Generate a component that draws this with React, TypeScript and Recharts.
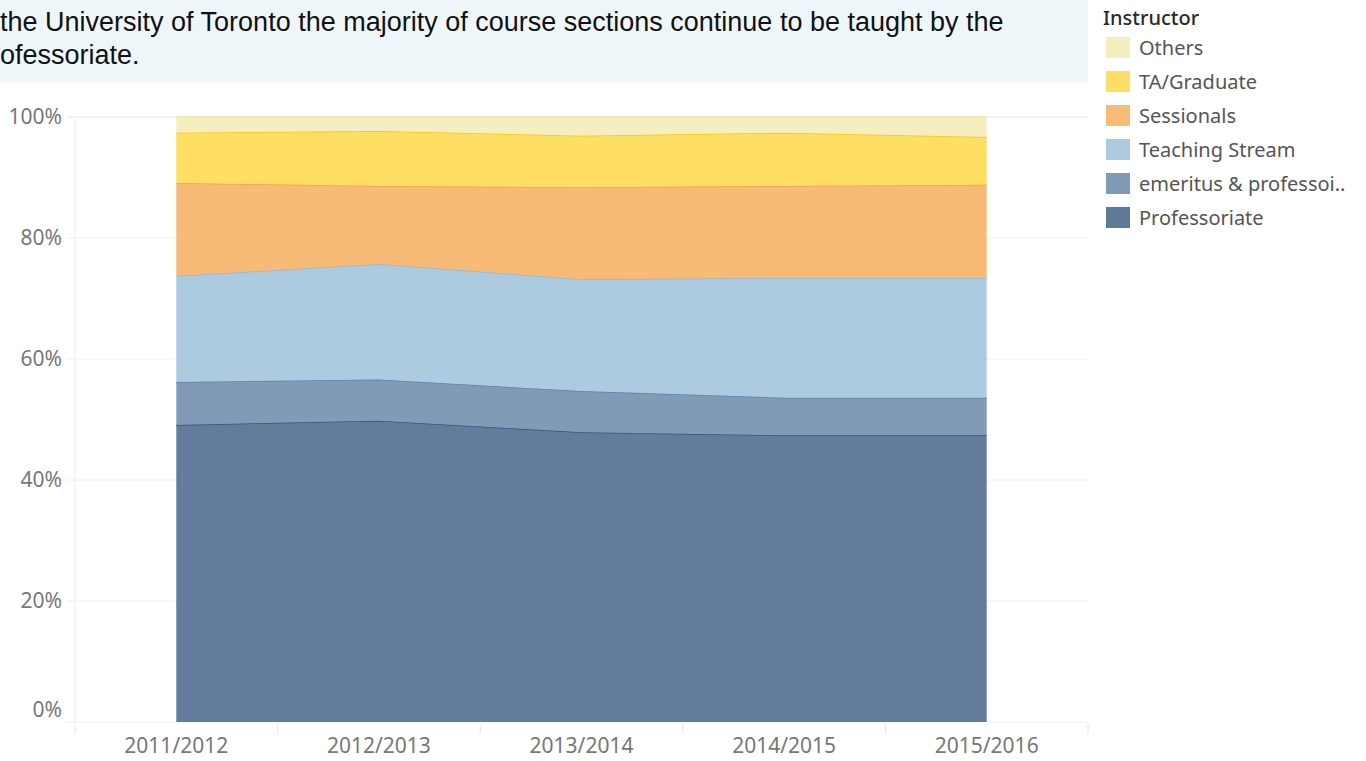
import React from 'react';
import { AreaChart, Area, XAxis, YAxis, CartesianGrid, ReferenceLine } from 'recharts';

const YEARS = ['2011/2012', '2012/2013', '2013/2014', '2014/2015', '2015/2016'];
const PROFESSORIATE = [49.1, 49.8, 47.9, 47.4, 47.4];
const EMERITUS = [7.1, 6.8, 6.8, 6.2, 6.2];
const TEACHING = [17.5, 19.1, 18.5, 19.8, 19.8];
const SESSIONALS = [15.4, 12.9, 15.2, 15.2, 15.4];
const TA = [8.3, 9.1, 8.5, 8.8, 7.9];
const OTHERS = [2.6, 2.3, 3.1, 2.6, 3.3];
const Y_TICKS = [0, 20, 40, 60, 80, 100];
const X_TICKS = [-0.5, 0, 0.5, 1, 1.5, 2, 2.5, 3, 3.5, 4, 4.5];

const SERIES = [
  { key: 'professoriate', name: 'Professoriate', fill: '#637c9b', stroke: '#2f5580', swatch: '#5f7a99' },
  { key: 'emeritus', name: 'emeritus & professoi..', fill: '#819bb6', stroke: '#5b81aa', swatch: '#7f9ab5' },
  { key: 'teaching', name: 'Teaching Stream', fill: '#adcbe0', stroke: '#93b8d8', swatch: '#adcbe0' },
  { key: 'sessionals', name: 'Sessionals', fill: '#f7bb77', stroke: '#f2a04f', swatch: '#f8bb78' },
  { key: 'ta', name: 'TA/Graduate', fill: '#fede63', stroke: '#fcc219', swatch: '#fedf66' },
  { key: 'others', name: 'Others', fill: '#f5eebe', stroke: '#f3e3a0', swatch: '#f4eebf' },
];

const data = YEARS.map((year, i) => ({
  idx: i,
  year,
  professoriate: PROFESSORIATE[i],
  emeritus: EMERITUS[i],
  teaching: TEACHING[i],
  sessionals: SESSIONALS[i],
  ta: TA[i],
  others: OTHERS[i],
}));

const FONT = '"Noto Sans", sans-serif';

const YTick = (props: any) => {
  const { x, y, payload } = props;
  const shift = payload.value === 0 ? -12 : 0;
  return (
    <text x={x} y={y + shift} dy="0.35em" textAnchor="end" fill="#777" fontSize={21} fontFamily={FONT}>
      {payload.value}%
    </text>
  );
};

const XTick = (props: any) => {
  const { x, y, payload } = props;
  const v = payload.value;
  if (!Number.isInteger(v)) {
    return <line x1={x} x2={x} y1={y + 3} y2={y + 12} stroke="#e4e4e4" strokeWidth={1} />;
  }
  return (
    <text x={x} y={y + 31} textAnchor="middle" fill="#777" fontSize={21} fontFamily={FONT}>
      {YEARS[v]}
    </text>
  );
};

const App: React.FC = () => {
  return (
    <div style={{ position: 'absolute', left: 0, top: 0, width: 1366, height: 761, background: '#fff', overflow: 'hidden' }}>
      <div
        style={{
          position: 'absolute', left: 0, top: 0, width: 1088, height: 82, background: '#eef6fa',
          fontFamily: '"Liberation Sans", Arial, sans-serif', fontSize: 27, lineHeight: '33px', color: '#111',
          paddingTop: 6, boxSizing: 'border-box', whiteSpace: 'nowrap',
        }}
      >
        <div>the University of Toronto the majority of course sections continue to be taught by the</div>
        <div>ofessoriate.</div>
      </div>

      <div style={{ position: 'absolute', left: 0, top: 0 }}>
        <AreaChart width={1366} height={761} data={data} margin={{ top: 117, right: 278, bottom: 0, left: 0 }}>
          <CartesianGrid vertical={false} stroke="#f0f0f0" />
          <ReferenceLine x={-0.5} stroke="#ececec" />
          <XAxis
            dataKey="idx"
            type="number"
            domain={[-0.5, 4.5]}
            ticks={X_TICKS}
            interval={0}
            padding={{ left: 8, right: 0 }}
            height={39}
            axisLine={false}
            tickLine={false}
            tickSize={0}
            tickMargin={0}
            tick={<XTick />}
          />
          <YAxis
            domain={[0, 100]}
            ticks={Y_TICKS}
            width={67}
            axisLine={false}
            tickLine={false}
            tickSize={0}
            tickMargin={5}
            tick={<YTick />}
          />
          {SERIES.map((s) => (
            <Area
              key={s.key}
              type="linear"
              dataKey={s.key}
              name={s.name}
              stackId="1"
              fill={s.fill}
              fillOpacity={1}
              stroke={s.stroke}
              strokeWidth={1.5}
              isAnimationActive={false}
            />
          ))}
        </AreaChart>
      </div>

      <div style={{ position: 'absolute', left: 1103, top: 6, fontFamily: FONT }}>
        <div style={{ fontSize: 20, fontWeight: 500, color: '#2a2a2a', height: 24, lineHeight: '24px' }}>Instructor</div>
        {[...SERIES].reverse().map((s) => (
          <div key={s.key} style={{ display: 'flex', alignItems: 'center', height: 34 }}>
            <div style={{ width: 24, height: 21, marginLeft: 3, background: s.swatch }} />
            <div style={{ marginLeft: 9, fontSize: 20, color: '#555', whiteSpace: 'nowrap' }}>{s.name}</div>
          </div>
        ))}
      </div>
    </div>
  );
};

export default App;
